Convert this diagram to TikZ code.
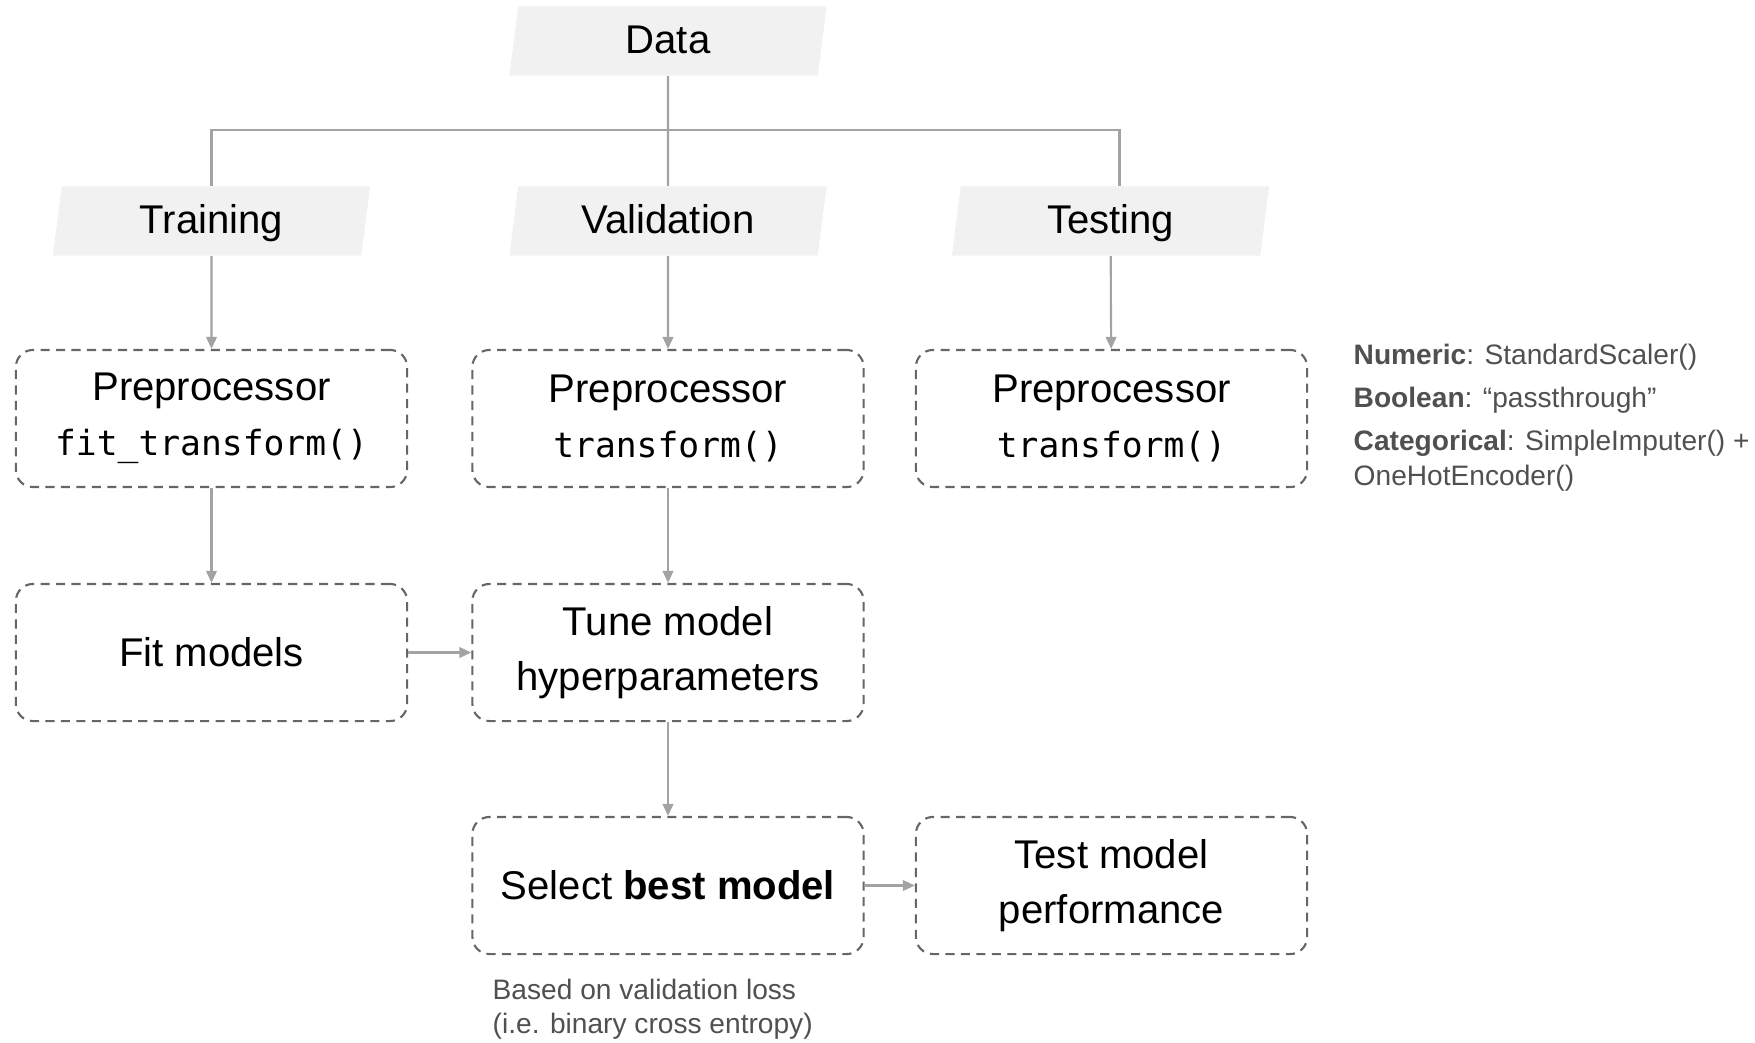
\documentclass[tikz,border=0pt]{standalone}
\usepackage{fontspec}
\setmainfont{Liberation Sans}
\setmonofont{DejaVu Sans Mono}
\usetikzlibrary{shapes.geometric,arrows.meta}
\definecolor{lightfill}{HTML}{F1F1F1}
\definecolor{linegray}{HTML}{A3A3A3}
\definecolor{boxgray}{HTML}{666666}
\definecolor{notegray}{HTML}{505050}
\tikzset{
  split/.style={trapezium, trapezium left angle=76, trapezium right angle=104,
    trapezium stretches body, fill=lightfill, minimum width=3.17cm,
    minimum height=0.69cm, inner sep=0pt, text height=1.6ex, text depth=0.3ex,
    font=\fontsize{11.4}{13}\selectfont},
  stage/.style={draw=boxgray, line width=0.6pt, dash pattern=on 2.6pt off 1.8pt,
    rounded corners=0.17cm, minimum width=3.91cm, minimum height=1.37cm,
    align=center, font=\fontsize{11.4}{15.5}\selectfont},
  flow/.style={draw=linegray, line width=0.6pt, -{Triangle[length=3.4pt,width=3pt]}},
  feed/.style={draw=linegray, line width=0.6pt},
  note/.style={text=notegray, align=left, inner sep=0pt, font=\fontsize{8}{9.8}\selectfont}
}
\def\code#1{{\ttfamily\fontsize{9.85}{14}\selectfont #1}}

\begin{document}
\begin{tikzpicture}[x=0.01cm,y=-0.01cm]
  \useasboundingbox (0,0) rectangle (1755,1042);
  % data splits
  \node[split] (data)  at (668,41)    {Data};
  \node[split] (train) at (211.5,221) {Training};
  \node[split] (valid) at (668,221)   {Validation};
  \node[split] (test)  at (1110.5,221) {Testing};
  \coordinate (fork) at (668,130);
  \draw[feed] (data.south) -- (valid.north);
  \draw[feed] (train.north) |- (fork) -| ([xshift=0.09cm]test.north);
  % pipeline
  \node[stage] (trainprep) at (211.5,418.5)  {Preprocessor\\\code{fit\_transform()}};
  \node[stage] (validprep) at (668,418.5)    {Preprocessor\\\code{transform()}};
  \node[stage] (testprep)  at (1111.5,418.5) {Preprocessor\\\code{transform()}};
  \node[stage] (fit)       at (211.5,652.5)  {Fit models};
  \node[stage] (tune)      at (668,652.5)    {Tune model\\hyperparameters};
  \node[stage] (select)    at (668,885.5)    {Select \textbf{best model}};
  \node[stage] (testperf)  at (1111.5,885.5) {Test model\\performance};
  \draw[flow] (train) -- (trainprep);
  \draw[flow] (valid) -- (validprep);
  \draw[flow] (test) -- (testprep);
  \draw[flow] (trainprep) -- (fit);
  \draw[flow] (validprep) -- (tune);
  \draw[flow] (fit) -- (tune);
  \draw[flow] (tune) -- (select);
  \draw[flow] (select) -- (testperf);
  % notes
  \node[note, anchor=north west] (scalers) at (1353,343)
    {\textbf{Numeric}: StandardScaler()\\[2.5pt]
     \textbf{Boolean}: “passthrough”\\[2.5pt]
     \textbf{Categorical}: SimpleImputer() +\\OneHotEncoder()};
  \node[note, anchor=north west] (lossnote) at (492,978)
    {Based on validation loss\\(i.e. binary cross entropy)};
\end{tikzpicture}
\end{document}
